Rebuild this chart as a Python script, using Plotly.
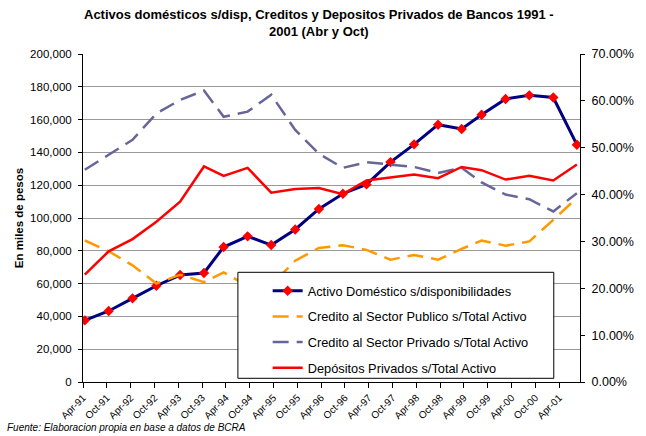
import plotly.graph_objects as go

# ---- data ----
dates = ["1991-04-15", "1991-10-15", "1992-04-15", "1992-10-15", "1993-04-15", "1993-10-15",
         "1994-03-15", "1994-09-15", "1995-03-15", "1995-09-15", "1996-03-15", "1996-09-15",
         "1997-03-15", "1997-09-15", "1998-03-15", "1998-09-15", "1999-03-15", "1999-08-15",
         "2000-02-15", "2000-08-15", "2001-02-15", "2001-08-15"]

activo_domestico = [37600, 43300, 51000, 58700, 65200, 66500, 82300, 88800, 83500, 93000, 105500,
                    114800, 120500, 134100, 144900, 156900, 154300, 163000, 172600, 174800,
                    173500, 144700]

credito_publico = [0.302, 0.279, 0.249, 0.210, 0.229, 0.213, 0.234, 0.205, 0.207, 0.259, 0.286,
                   0.292, 0.282, 0.261, 0.271, 0.261, 0.284, 0.302, 0.291, 0.300, 0.346, 0.393]

credito_privado = [0.453, 0.485, 0.517, 0.573, 0.602, 0.622, 0.566, 0.577, 0.613, 0.538, 0.487,
                   0.457, 0.469, 0.464, 0.459, 0.446, 0.457, 0.426, 0.400, 0.390, 0.364, 0.403]

depositos_privados = [0.229, 0.279, 0.305, 0.342, 0.385, 0.460, 0.440, 0.457, 0.404, 0.412, 0.414,
                      0.401, 0.430, 0.437, 0.443, 0.435, 0.459, 0.452, 0.432, 0.440, 0.430, 0.464]

series_names = ["Activo Doméstico s/disponibilidades",
                "Credito al Sector Publico s/Total Activo",
                "Credito al Sector Privado s/Total Activo",
                "Depósitos Privados s/Total Activo"]

title_text = ("<b>Activos domésticos s/disp, Creditos y Depositos Privados de Bancos 1991 -<br>"
              "2001 (Abr y Oct)</b>")
y_title = "<b>En miles de pesos</b>"
source_text = "<i>Fuente: Elaboracion propia en base a datos de BCRA</i>"

FONT = "Liberation Sans, Arial, sans-serif"

fig = go.Figure()

fig.add_trace(go.Scatter(
    x=dates, y=activo_domestico, name=series_names[0], mode="lines+markers",
    line=dict(color="#000080", width=3),
    marker=dict(symbol="diamond", color="#FF0000", size=8),
    legendgroup="a", yaxis="y"))

fig.add_trace(go.Scatter(
    x=dates, y=credito_publico, name=series_names[1], mode="lines",
    line=dict(color="#FF9900", width=2.5, dash="16px,8px"),
    legendgroup="b", yaxis="y2"))

fig.add_trace(go.Scatter(
    x=dates, y=credito_privado, name=series_names[2], mode="lines",
    line=dict(color="#666699", width=2.5, dash="16px,8px"),
    legendgroup="c", yaxis="y2"))

fig.add_trace(go.Scatter(
    x=dates, y=depositos_privados, name=series_names[3], mode="lines",
    line=dict(color="#FF0000", width=2.5),
    legendgroup="d", yaxis="y2"))

W, H = 646, 436
L, R, T, B = 83, 57, 54, 54
pw, ph = W - L - R, H - T - B


def px_x(p):
    return (p - L) / pw


def px_y(p):
    return (H - B - p) / ph


fig.update_layout(
    width=W, height=H,
    margin=dict(l=L, r=R, t=T, b=B),
    paper_bgcolor="white", plot_bgcolor="white",
    font=dict(family=FONT, color="black", size=11),
    showlegend=True,
    legend=dict(x=px_x(271), y=px_y(276), xanchor="left", yanchor="top",
                bgcolor="rgba(0,0,0,0)", borderwidth=0,
                font=dict(family=FONT, size=12.8, color="black"),
                traceorder="grouped", tracegroupgap=6),
    xaxis=dict(type="date", range=["1991-04-01", "2001-09-08"],
               tick0="1991-04-01", dtick="M6", tickformat="%b-%y",
               tickangle=-45, ticks="outside", ticklen=5, tickcolor="black",
               showline=True, linecolor="black", linewidth=1,
               showgrid=False, zeroline=False,
               tickfont=dict(family=FONT, size=10, color="black")),
    yaxis=dict(range=[0, 200000], dtick=20000, tickformat=",",
               ticks="outside", ticklen=4, tickcolor="black",
               showline=True, linecolor="black", linewidth=1,
               showgrid=True, gridcolor="#9a9a9a", gridwidth=1,
               zeroline=False, ticklabelstandoff=4,
               tickfont=dict(family=FONT, size=11.5, color="black")),
    yaxis2=dict(range=[0, 0.7], dtick=0.1, tickformat=".2%",
                overlaying="y", side="right",
                ticks="outside", ticklen=4, tickcolor="black",
                showline=True, linecolor="black", linewidth=1,
                showgrid=False, zeroline=False, ticklabelstandoff=4,
                tickfont=dict(family=FONT, size=12.5, color="black")),
)

# title
fig.add_annotation(text=title_text, xref="paper", yref="paper", x=px_x(323), y=px_y(23.5),
                   xanchor="center", yanchor="middle", showarrow=False,
                   font=dict(family=FONT, size=13, color="black"))

# legend frame
fig.add_shape(type="rect", xref="paper", yref="paper",
              x0=px_x(240.7), x1=px_x(562.3), y0=px_y(378.3), y1=px_y(272.3),
              fillcolor="white", line=dict(color="black", width=1), layer="above")

fig.add_annotation(text=y_title, xref="paper", yref="paper", x=px_x(18), y=0.5,
                   xanchor="center", yanchor="middle", textangle=-90, showarrow=False,
                   font=dict(family=FONT, size=11.5, color="black"))

fig.add_annotation(text=source_text, xref="paper", yref="paper", x=px_x(4), y=px_y(428),
                   xanchor="left", yanchor="middle", showarrow=False,
                   font=dict(family=FONT, size=10, color="black"))

fig.write_html("out.html", config={"displayModeBar": False},
               post_script="document.body.style.margin='0';document.body.style.overflow='hidden';")
